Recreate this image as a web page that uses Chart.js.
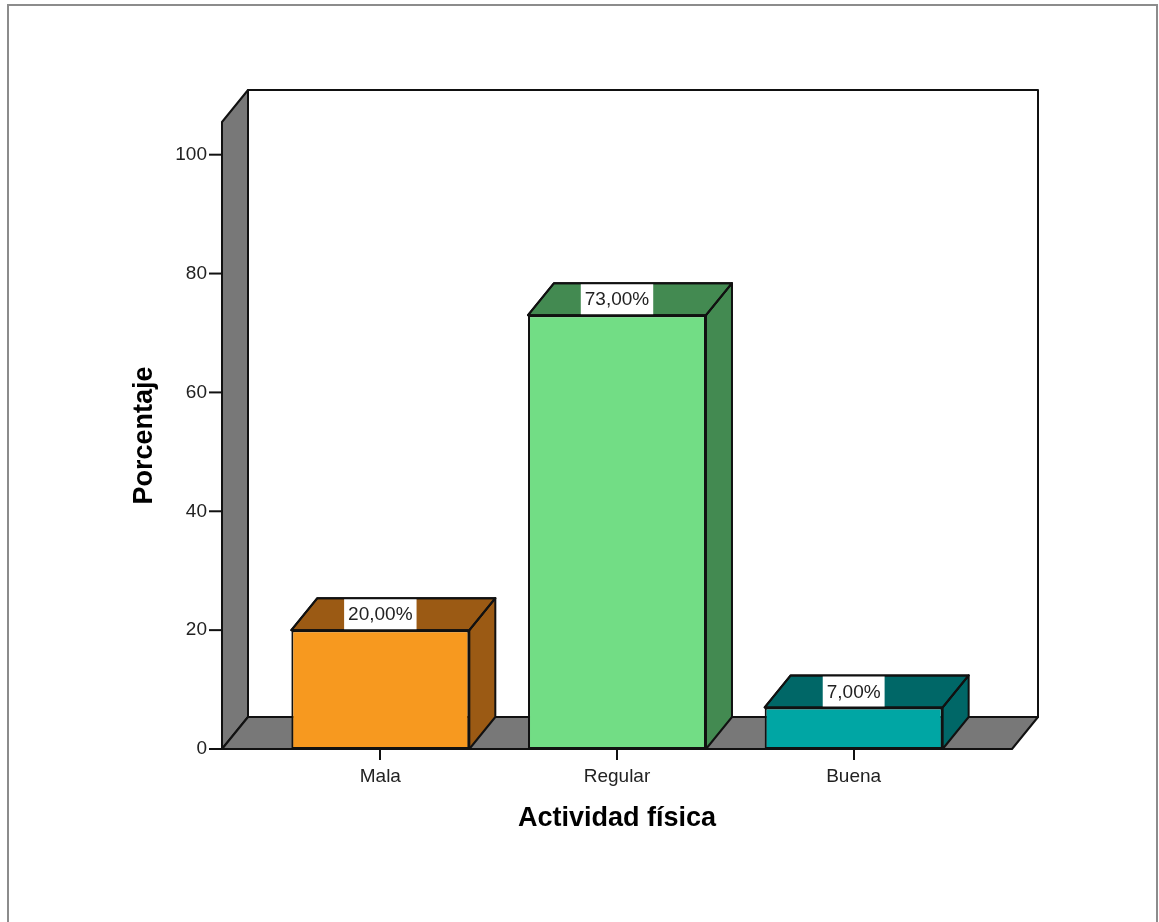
<!DOCTYPE html>
<html>
<head>
<meta charset="utf-8">
<script src="https://cdn.jsdelivr.net/npm/chart.js@4.4.1/dist/chart.umd.min.js"></script>
<style>
body { margin: 0; background: #fff; }
#marco { position: absolute; left: 7px; top: 4px; width: 1151px; height: 940px; border: 2px solid #8c8c8c; box-sizing: border-box; }
#caja { position: absolute; left: 0; top: 0; width: 1159px; height: 922px; }
</style>
</head>
<body>
<div id="marco"></div>
<div id="caja"><canvas id="grafico"></canvas></div>
<script>
var categorias = ['Mala', 'Regular', 'Buena'];
var porcentajes = [20, 73, 7];
var etiquetas = ['20,00%', '73,00%', '7,00%'];
var marcas_y = [0, 20, 40, 60, 80, 100];
var colores_frente = ['#F7991F', '#72DD85', '#00A6A4'];
var colores_lado = ['#9B5A14', '#438A51', '#006767'];

var fuente = '"Liberation Sans", Arial, sans-serif';
var margen = 40, dx = 26, dy = -32;

function poligono(c, pts, relleno) {
    c.beginPath();
    c.moveTo(pts[0][0], pts[0][1]);
    for (var i = 1; i < pts.length; i++) c.lineTo(pts[i][0], pts[i][1]);
    c.closePath();
    if (relleno) { c.fillStyle = relleno; c.fill(); }
    c.stroke();
}

var cubo = {
    id: 'cubo',
    beforeDatasetsDraw: function (chart) {
        var c = chart.ctx, a = chart.chartArea, y = chart.scales.y;
        var x0 = a.left - margen, x1 = a.right + margen;
        var base = y.getPixelForValue(0), tope = a.top;
        c.save();
        c.lineWidth = 2;
        c.strokeStyle = '#111';
        c.lineJoin = 'round';
        // pared del fondo
        poligono(c, [[x0 + dx, tope + dy], [x1 + dx, tope + dy], [x1 + dx, base + dy], [x0 + dx, base + dy]], '#fff');
        // pared izquierda
        poligono(c, [[x0, tope], [x0 + dx, tope + dy], [x0 + dx, base + dy], [x0, base]], '#787878');
        // piso
        poligono(c, [[x0, base], [x0 + dx, base + dy], [x1 + dx, base + dy], [x1, base]], '#787878');
        // marcas del eje y
        y.ticks.forEach(function (t) {
            var py = y.getPixelForValue(t.value);
            c.beginPath();
            c.moveTo(x0 - 13, py);
            c.lineTo(x0, py);
            c.stroke();
        });
        c.restore();
    },
    afterDatasetsDraw: function (chart) {
        var c = chart.ctx;
        var meta = chart.getDatasetMeta(0);
        c.save();
        c.lineWidth = 2;
        c.strokeStyle = '#111';
        c.lineJoin = 'round';
        meta.data.forEach(function (el, i) {
            var p = el.getProps(['x', 'y', 'base', 'width'], true);
            var izq = p.x - p.width / 2, der = p.x + p.width / 2;
            // lado derecho
            poligono(c, [[der, p.y], [der + dx, p.y + dy], [der + dx, p.base + dy], [der, p.base]], colores_lado[i]);
            // cara superior
            var arriba = [[izq, p.y], [izq + dx, p.y + dy], [der + dx, p.y + dy], [der, p.y]];
            poligono(c, arriba, colores_lado[i]);
            // etiqueta
            c.font = '19px ' + fuente;
            var w = c.measureText(etiquetas[i]).width + 8;
            c.fillStyle = '#fff';
            c.fillRect(p.x - w / 2, p.y + dy, w, -dy);
            poligono(c, arriba, null);
            c.fillStyle = '#222';
            c.textAlign = 'center';
            c.textBaseline = 'middle';
            c.fillText(etiquetas[i], p.x, p.y + dy / 2 + 1);
        });
        c.restore();
    }
};

var grafico = new Chart(document.getElementById('grafico'), {
    type: 'bar',
    data: {
        labels: categorias,
        datasets: [{
            data: porcentajes,
            backgroundColor: colores_frente,
            borderColor: '#111',
            borderWidth: 2,
            borderSkipped: false,
            barPercentage: 0.752,
            categoryPercentage: 1
        }]
    },
    options: {
        responsive: true,
        maintainAspectRatio: false,
        animation: false,
        layout: { padding: { left: 0, right: 187, top: 122, bottom: 0 } },
        plugins: { legend: { display: false }, tooltip: { enabled: false } },
        scales: {
            x: {
                afterFit: function (s) { s.height = 173; },
                grid: { display: true, drawOnChartArea: false, drawTicks: true, tickLength: 11, offset: false, color: '#111', lineWidth: 2 },
                border: { display: false },
                ticks: { padding: 5, color: '#222', font: { family: fuente, size: 19 } },
                title: { display: true, text: 'Actividad física', color: '#000', font: { family: fuente, size: 27, weight: 'bold' }, padding: { top: 0, bottom: 87 } }
            },
            y: {
                min: 0,
                max: 105.5,
                afterFit: function (s) { s.width = 262; },
                afterBuildTicks: function (s) { s.ticks = marcas_y.map(function (v) { return { value: v }; }); },
                grid: { display: false },
                border: { display: false },
                ticks: { padding: 47, color: '#222', font: { family: fuente, size: 19 } },
                title: { display: true, text: 'Porcentaje', color: '#000', font: { family: fuente, size: 27, weight: 'bold' }, padding: { top: 128, bottom: 0 } }
            }
        }
    },
    plugins: [cubo]
});
</script>
</body>
</html>
